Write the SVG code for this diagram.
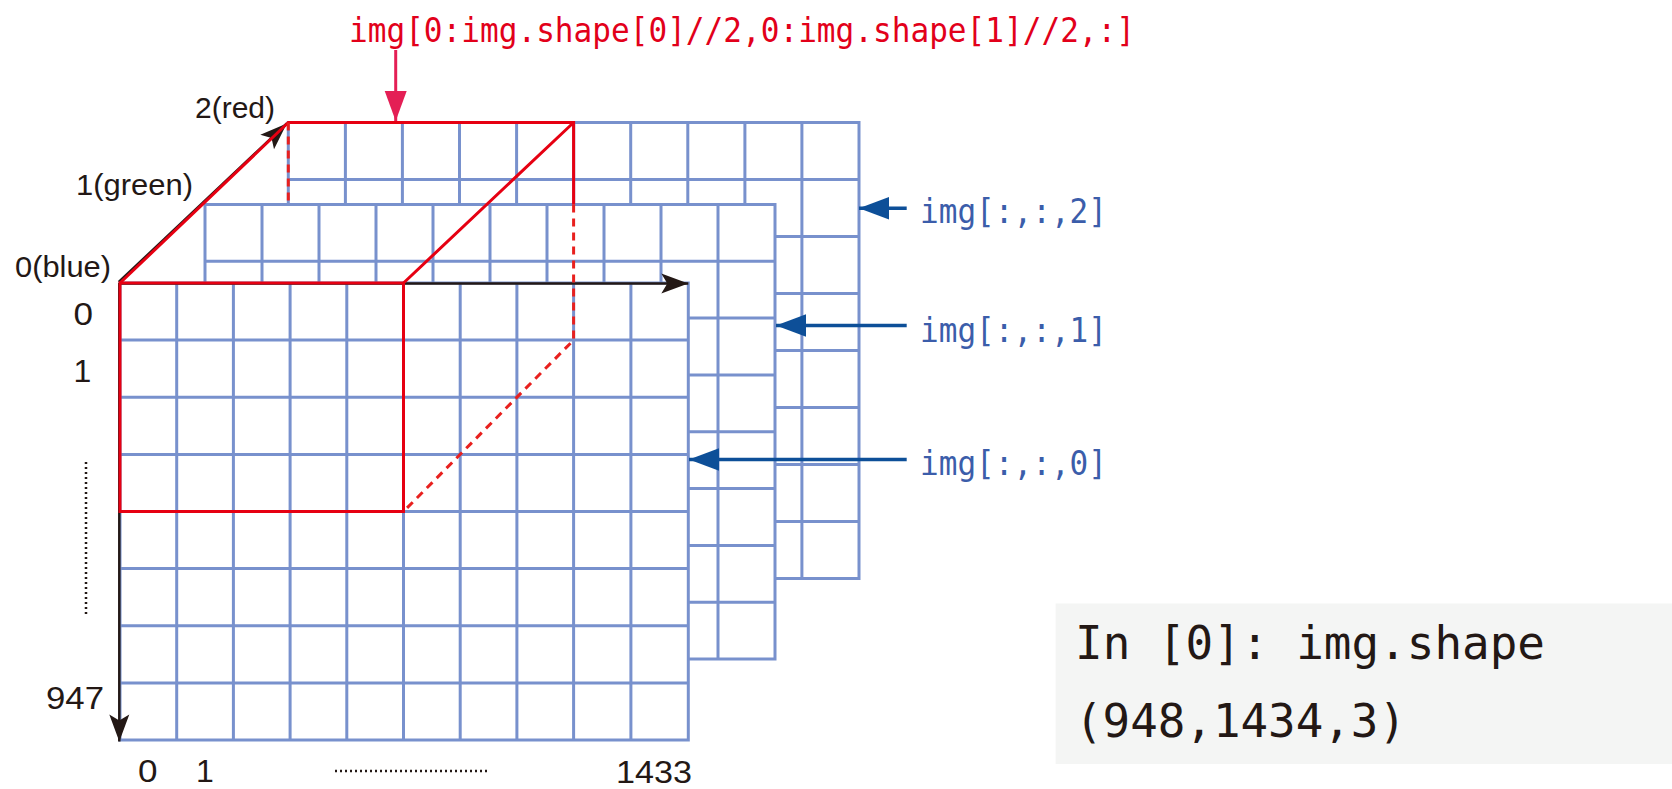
<svg xmlns="http://www.w3.org/2000/svg" width="1672" height="789" viewBox="0 0 1672 789">
<style>
.grid{fill:#ffffff;stroke:#7891cd;stroke-width:3}
.red{fill:none;stroke:#e60012;stroke-width:3}
.reddash{fill:none;stroke:#e8201e;stroke-width:3;stroke-dasharray:8 6}
.blk{fill:none;stroke:#231815;stroke-width:2.5}
.blue{fill:none;stroke:#0d4f98;stroke-width:3.5}
.lbl{font-family:"Liberation Sans",Arial,sans-serif;font-size:30px;fill:#231815}
.num{font-family:"Liberation Sans",Arial,sans-serif;font-size:32px;fill:#231815}
.mono{font-family:"DejaVu Sans Mono","Liberation Mono",monospace;font-size:34px}
.code{font-family:"DejaVu Sans Mono","Liberation Mono",monospace;font-size:47px;fill:#231815}
.dots{fill:none;stroke:#231815;stroke-width:2.5;stroke-dasharray:2 3}
</style>
<defs>
<marker id="ahBlack" viewBox="-30 -12 32 24" refX="0" refY="0" markerWidth="32" markerHeight="24" markerUnits="userSpaceOnUse" orient="auto">
<path d="M0,0 L-27,-10 L-21,0 L-27,10 Z" fill="#231815"/>
</marker>
<marker id="ahBlue" viewBox="-32 -13 34 26" refX="0" refY="0" markerWidth="34" markerHeight="26" markerUnits="userSpaceOnUse" orient="auto">
<path d="M0,0 L-30,-11.3 L-30,11.3 Z" fill="#0d4f98"/>
</marker>
<marker id="ahRed" viewBox="-32 -13 34 26" refX="0" refY="0" markerWidth="34" markerHeight="26" markerUnits="userSpaceOnUse" orient="auto">
<path d="M0,0 L-30,-11 L-30,11 Z" fill="#e41f55"/>
</marker>
</defs>
<rect x="0" y="0" width="1672" height="789" fill="#ffffff"/>

<g id="layer-2">
<rect class="grid" x="288.3" y="122.5" width="570.7" height="456"/>
<path class="grid" fill="none" d="M345.4,122.5V578.5M402.4,122.5V578.5M459.5,122.5V578.5M516.6,122.5V578.5M573.7,122.5V578.5M630.7,122.5V578.5M687.8,122.5V578.5M744.9,122.5V578.5M801.9,122.5V578.5M288.3,179.5H859M288.3,236.5H859M288.3,293.5H859M288.3,350.5H859M288.3,407.5H859M288.3,464.5H859M288.3,521.5H859"/>
</g>

<g id="layer-1">
<rect class="grid" x="205" y="204.5" width="570" height="454.5"/>
<path class="grid" fill="none" d="M262,204.5V659M319,204.5V659M376,204.5V659M433,204.5V659M490,204.5V659M547,204.5V659M604,204.5V659M661,204.5V659M718,204.5V659M205,261.3H775M205,318.1H775M205,374.9H775M205,431.7H775M205,488.6H775M205,545.4H775M205,602.2H775"/>
</g>

<g id="layer-0">
<rect class="grid" x="120" y="283" width="568.3" height="457"/>
<path class="grid" fill="none" d="M176.7,283V740M233.4,283V740M290.1,283V740M346.8,283V740M403.5,283V740M460.2,283V740M516.9,283V740M573.6,283V740M630.9,283V740M120,340.1H688.3M120,397.2H688.3M120,454.4H688.3M120,511.5H688.3M120,568.6H688.3M120,625.7H688.3M120,682.9H688.3"/>
</g>

<g id="connectors">
<line class="blk" x1="120" y1="283.5" x2="688.3" y2="283.5" marker-end="url(#ahBlack)"/>
<line class="blk" x1="119.3" y1="283" x2="119.3" y2="741.5" marker-end="url(#ahBlack)"/>
<line class="blk" x1="118.8" y1="282" x2="286.8" y2="123.5" marker-end="url(#ahBlack)"/>
<line class="blue" x1="906.7" y1="208.3" x2="859" y2="208.3" marker-end="url(#ahBlue)"/>
<line class="blue" x1="906.7" y1="325.5" x2="776" y2="325.5" marker-end="url(#ahBlue)"/>
<line class="blue" x1="906.7" y1="459.5" x2="689" y2="459.5" marker-end="url(#ahBlue)"/>
<line x1="395.7" y1="50" x2="395.7" y2="121" stroke="#e41f55" stroke-width="3" marker-end="url(#ahRed)"/>
</g>

<g id="red-box">
<rect class="red" x="120" y="283" width="283.5" height="228.5"/>
<path class="red" d="M120,283L288.3,122.5H573.6V204.5M403.5,283L573.6,122.5"/>
<path class="reddash" d="M288.3,122.5V204.5M573.6,204.5V340.1L403.5,511.5"/>
</g>

<g id="axis-labels">
<text class="lbl" x="195" y="118.3" textLength="80" lengthAdjust="spacingAndGlyphs">2(red)</text>
<text class="lbl" x="76" y="195" textLength="117" lengthAdjust="spacingAndGlyphs">1(green)</text>
<text class="lbl" x="15" y="276.7" textLength="96" lengthAdjust="spacingAndGlyphs">0(blue)</text>
<text class="num" x="73.5" y="325" textLength="19.5" lengthAdjust="spacingAndGlyphs">0</text>
<text class="num" x="73.5" y="381.7">1</text>
<line class="dots" x1="86" y1="462" x2="86" y2="615"/>
<text class="num" x="46" y="708.5" textLength="58" lengthAdjust="spacingAndGlyphs">947</text>
<text class="num" x="138" y="782" textLength="19.5" lengthAdjust="spacingAndGlyphs">0</text>
<text class="num" x="196" y="782">1</text>
<line class="dots" x1="335" y1="771" x2="489" y2="771"/>
<text class="num" x="616" y="783" textLength="76" lengthAdjust="spacingAndGlyphs">1433</text>
</g>

<g id="slice-label">
<text class="mono" x="349" y="41.7" fill="#e2001a" textLength="786" lengthAdjust="spacingAndGlyphs">img[0:img.shape[0]//2,0:img.shape[1]//2,:]</text>
</g>

<g id="channel-labels">
<text class="mono" x="920" y="223.3" fill="#3b5daa" textLength="187" lengthAdjust="spacingAndGlyphs">img[:,:,2]</text>
<text class="mono" x="920" y="341.7" fill="#3b5daa" textLength="187" lengthAdjust="spacingAndGlyphs">img[:,:,1]</text>
<text class="mono" x="920" y="475" fill="#3b5daa" textLength="187" lengthAdjust="spacingAndGlyphs">img[:,:,0]</text>
</g>

<g id="code-box">
<rect x="1055.6" y="603.5" width="616.4" height="160.5" fill="#f4f5f4"/>
<text class="code" x="1075" y="659" textLength="470" lengthAdjust="spacingAndGlyphs">In [0]: img.shape</text>
<text class="code" x="1075" y="736.7" textLength="331" lengthAdjust="spacingAndGlyphs">(948,1434,3)</text>
</g>
</svg>
